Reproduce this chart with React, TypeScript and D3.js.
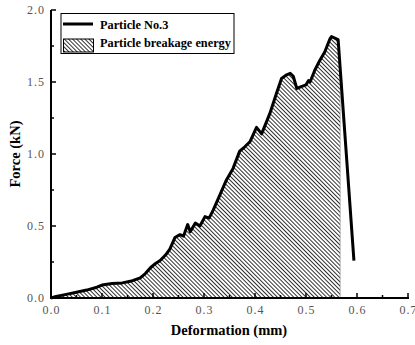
import React from "react";
import * as d3 from "d3";

const deformation = [0, 0.01, 0.03, 0.05, 0.07, 0.09, 0.1, 0.12, 0.14, 0.16, 0.175, 0.185, 0.195, 0.205, 0.214, 0.225, 0.233, 0.243, 0.253, 0.26, 0.268, 0.273, 0.283, 0.292, 0.302, 0.31, 0.318, 0.331, 0.344, 0.357, 0.37, 0.38, 0.39, 0.403, 0.413, 0.429, 0.442, 0.452, 0.462, 0.469, 0.475, 0.482, 0.492, 0.5, 0.505, 0.508, 0.517, 0.527, 0.537, 0.547, 0.55, 0.563, 0.594];
const force = [0, 0.01, 0.025, 0.04, 0.055, 0.075, 0.09, 0.1, 0.105, 0.12, 0.14, 0.17, 0.21, 0.24, 0.26, 0.3, 0.34, 0.42, 0.44, 0.43, 0.51, 0.46, 0.52, 0.5, 0.565, 0.555, 0.61, 0.715, 0.82, 0.9, 1.02, 1.05, 1.085, 1.185, 1.14, 1.28, 1.42, 1.525, 1.55, 1.56, 1.54, 1.455, 1.47, 1.48, 1.51, 1.5, 1.58, 1.65, 1.71, 1.8, 1.815, 1.795, 0.26];
const fillEnd = 0.567;
const xTicks = [0, 0.1, 0.2, 0.3, 0.4, 0.5, 0.6, 0.7];
const yTicks = [0, 0.5, 1.0, 1.5, 2.0];
const legendLabels = ["Particle No.3", "Particle breakage energy"];

export default function App() {
  const W = 415, H = 345;
  const x = d3.scaleLinear().domain([0, 0.7]).range([51, 408]);
  const y = d3.scaleLinear().domain([0, 2]).range([298, 10]);
  const pts: [number, number][] = deformation.map((d, i) => [d, force[i]]);
  const fillPts: [number, number][] = [];
  for (let i = 0; i < pts.length; i++) {
    if (pts[i][0] <= fillEnd) fillPts.push(pts[i]);
    else {
      const [x0, y0] = pts[i - 1];
      const [x1, y1] = pts[i];
      const t = (fillEnd - x0) / (x1 - x0);
      fillPts.push([fillEnd, y0 + t * (y1 - y0)]);
      break;
    }
  }
  const line = d3.line<[number, number]>().x(d => x(d[0])).y(d => y(d[1]));
  const area = d3.area<[number, number]>().x(d => x(d[0])).y0(y(0)).y1(d => y(d[1]));
  const minorX = d3.range(0.05, 0.7, 0.1);
  const minorY = d3.range(0.25, 2, 0.5);
  const serif = "'Liberation Serif', 'DejaVu Serif', serif";
  return (
    <svg width={W} height={H} style={{ position: "absolute", left: 0, top: 0 }}>
      <defs>
        <pattern id="hatch" width="2.9" height="2.9" patternUnits="userSpaceOnUse" patternTransform="rotate(-45)">
          <rect width="2.9" height="2.9" fill="#fff" />
          <line x1="0" y1="0" x2="0" y2="2.9" stroke="#000" strokeWidth="1.6" />
        </pattern>
      </defs>
      <path d={area(fillPts) || ""} fill="url(#hatch)" stroke="#888" strokeWidth={0.6} />
      <path d={line(pts) || ""} fill="none" stroke="#000" strokeWidth={3} strokeLinejoin="round" />
      <line x1={x(0)} x2={x(0.7) + 1} y1={y(0)} y2={y(0)} stroke="#000" strokeWidth={2} />
      <line x1={x(0)} x2={x(0)} y1={y(0) + 1} y2={y(2)} stroke="#000" strokeWidth={2} />
      {xTicks.map(t => (
        <g key={"xt" + t}>
          <line x1={x(t)} x2={x(t)} y1={y(0)} y2={y(0) - 5} stroke="#000" strokeWidth={1.5} />
          <text x={x(t) + 0.5} y={314} textAnchor="middle" fontFamily={serif} fontSize={12} fill="#555" letterSpacing={1}>{t.toFixed(1)}</text>
        </g>
      ))}
      {minorX.map(t => (
        <line key={"xm" + t} x1={x(t)} x2={x(t)} y1={y(0)} y2={y(0) - 3} stroke="#000" strokeWidth={1.5} />
      ))}
      {yTicks.map(t => (
        <g key={"yt" + t}>
          <line x1={x(0)} x2={x(0) + 5} y1={y(t)} y2={y(t)} stroke="#000" strokeWidth={1.5} />
          <text x={45} y={y(t) + 4} textAnchor="end" fontFamily={serif} fontSize={12} fill="#555" letterSpacing={1}>{t.toFixed(1)}</text>
        </g>
      ))}
      {minorY.map(t => (
        <line key={"ym" + t} x1={x(0)} x2={x(0) + 3} y1={y(t)} y2={y(t)} stroke="#000" strokeWidth={1.5} />
      ))}
      <text x={229} y={335} textAnchor="middle" fontFamily={serif} fontWeight="bold" fontSize={14.5}>Deformation (mm)</text>
      <text transform={`translate(20,${(y(0) + y(2)) / 2}) rotate(-90)`} textAnchor="middle" fontFamily={serif} fontWeight="bold" fontSize={14.5}>Force (kN)</text>
      <rect x={61} y={13.5} width={173} height={40} fill="#fff" stroke="#000" strokeWidth={1} />
      <line x1={63} x2={93} y1={24} y2={24} stroke="#000" strokeWidth={3} />
      <rect x={63.5} y={39} width={30} height={13} fill="url(#hatch)" stroke="#000" strokeWidth={1} />
      <text x={100} y={28.5} fontFamily={serif} fontWeight="bold" fontSize={12.3}>{legendLabels[0]}</text>
      <text x={100} y={47} fontFamily={serif} fontWeight="bold" fontSize={12.3}>{legendLabels[1]}</text>
    </svg>
  );
}
